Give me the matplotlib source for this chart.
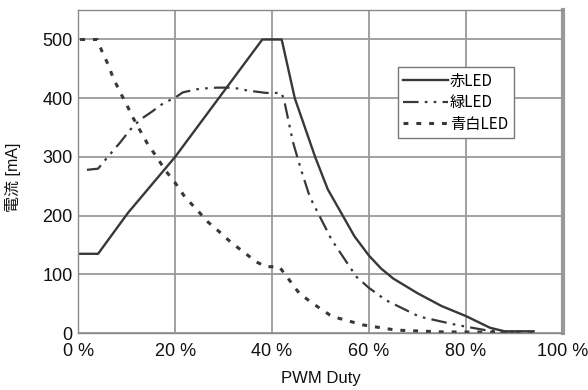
import matplotlib

matplotlib.use("Agg")
import matplotlib.pyplot as plt

plt.rcParams["font.family"] = ["Liberation Sans", "Noto Sans CJK JP", "DejaVu Sans"]

# PWM duty [%] vs current [mA]
red_x = [0, 4.1, 10.3, 20, 29, 38, 42, 44.7, 48.9, 51.5, 54.6, 57, 60, 62.5, 65, 70, 75, 80, 85, 88, 94]
red_y = [135, 135, 205, 300, 400, 500, 500, 400, 300, 245, 200, 165, 132, 110, 93, 68, 46, 29, 9, 3, 3]

green_x = [1.8, 4.1, 6, 8.6, 10.7, 12.7, 15.2, 17.5, 20, 21.6, 25, 28.6, 32, 35, 38.8, 42,
           42.7, 44.3, 46, 47.8, 50.2, 52.3, 57.4, 60, 63.5, 70.4, 78, 84, 90]
green_y = [278, 280, 299, 324, 346, 363, 377, 391, 401, 410, 416, 418, 418, 413, 409, 409,
           389, 326, 278, 232, 193, 159, 96, 77, 56, 28, 14, 5, 0]

blue_x = [0.4, 3.9, 4.9, 6.2, 7.2, 8.6, 10, 11.3, 12.7, 14.4, 16.2, 17.9, 20, 22, 24.5, 26.8,
          29.2, 31.6, 34.3, 36.8, 38.8, 41.5, 43.6, 45.6, 48.3, 51.9, 53, 58.7, 65.6, 75, 94]
blue_y = [500, 500, 480, 457, 435, 411, 389, 367, 346, 321, 300, 278, 256, 232, 210, 189,
          172, 154, 137, 121, 113, 113, 90, 68, 51, 31, 27, 14, 5, 2, 1]

xticks = [0, 20, 40, 60, 80, 100]
yticks = [0, 100, 200, 300, 400, 500]

fig = plt.figure(figsize=(5.88, 3.9), dpi=100)
ax = fig.add_axes([0.133, 0.146, 0.824, 0.828])

lc = "#383838"
ax.plot(red_x, red_y, "-", color=lc, lw=1.7, label="赤LED")
ax.plot(green_x, green_y, color=lc, lw=1.6, dashes=(7, 2.8, 1.2, 2.8, 1.2, 2.8), label="緑LED")
ax.plot(blue_x, blue_y, color=lc, lw=2.2, dashes=(1.6, 2.6), label="青白LED")

ax.set_xlim(0, 100)
ax.set_ylim(0, 550)
ax.set_xticks(xticks)
ax.set_xticklabels([f"{t} %" for t in xticks])
ax.set_yticks(yticks)
ax.tick_params(length=0, labelsize=13, colors="#111111")
ax.tick_params(axis="y", pad=4)
ax.tick_params(axis="x", pad=7)
ax.grid(True, color="#9a9a9a", lw=1.3)
ax.set_axisbelow(True)
for side in ["top", "left", "bottom"]:
    ax.spines[side].set_color("#8a8a8a")
    ax.spines[side].set_linewidth(1.0)
ax.spines["right"].set_color("#999999")
ax.spines["right"].set_linewidth(3)

ax.set_xlabel("PWM Duty", fontsize=12, color="#111111")
ax.xaxis.set_label_coords(0.5, -0.118)
ax.set_ylabel("電流 [mA]", fontsize=11.5, color="#111111")
ax.yaxis.set_label_coords(-0.118, 0.483)

leg = ax.legend(loc="upper left", bbox_to_anchor=(0.66, 0.8235),
                prop={"family": ["Noto Sans CJK JP"], "size": 11},
                frameon=True, fancybox=False, edgecolor="#777777", framealpha=1,
                handlelength=2.9, handletextpad=0.15, borderpad=0.35,
                labelspacing=0.3, borderaxespad=0)
leg.get_frame().set_linewidth(1.0)

fig.savefig("out.png", dpi=100)
